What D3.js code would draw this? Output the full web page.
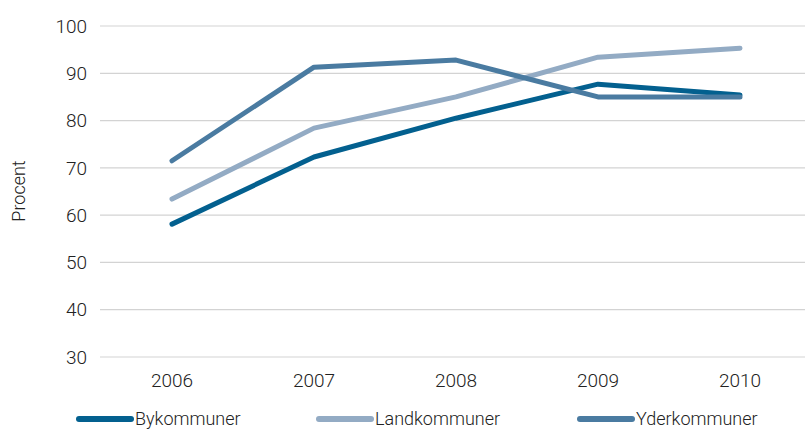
<!DOCTYPE html>
<html>
<head>
<meta charset="utf-8">
<script src="https://cdn.jsdelivr.net/npm/d3@7"></script>
<style>
  body { margin: 0; background: #fff; }
  svg text { font-family: Roboto, "DejaVu Sans", sans-serif; fill: #222; font-weight: 300; }
</style>
</head>
<body>
<svg id="chart" width="805" height="430"></svg>
<script>
// data
const years = ['2006', '2007', '2008', '2009', '2010'];
const bykommuner = [58.1, 72.3, 80.5, 87.7, 85.4];
const landkommuner = [63.4, 78.4, 85.0, 93.4, 95.3];
const yderkommuner = [71.5, 91.3, 92.8, 85.0, 85.0];
const yTicks = [30, 40, 50, 60, 70, 80, 90, 100];

const series = [
  { name: 'Bykommuner', values: bykommuner, color: '#03608f' },
  { name: 'Landkommuner', values: landkommuner, color: '#93abc4' },
  { name: 'Yderkommuner', values: yderkommuner, color: '#4a7ba1' }
];

const svg = d3.select('#chart');

const x = d3.scalePoint().domain(years).range([172, 740]);
const y = d3.scaleLinear().domain([30, 100]).range([357, 26]);

// gridlines
svg.append('g')
  .selectAll('line')
  .data(yTicks)
  .join('line')
  .attr('x1', 100).attr('x2', 805)
  .attr('y1', d => y(d)).attr('y2', d => y(d))
  .attr('stroke', '#d3d3d3')
  .attr('stroke-width', 1.2);

// y tick labels
svg.append('g')
  .selectAll('text')
  .data(yTicks)
  .join('text')
  .attr('x', 87)
  .attr('y', d => y(d))
  .attr('dy', '0.35em')
  .attr('text-anchor', 'end')
  .style('font-size', '19px')
  .text(d => d);

// x tick labels
svg.append('g')
  .selectAll('text')
  .data(years)
  .join('text')
  .attr('x', d => x(d))
  .attr('y', 387)
  .attr('text-anchor', 'middle')
  .style('font-size', '19px')
  .text(d => d);

// axis title
svg.append('text')
  .attr('transform', 'translate(25,191) rotate(-90)')
  .attr('text-anchor', 'middle')
  .style('font-size', '18px')
  .text('Procent');

// lines
const line = d3.line()
  .x((d, i) => x(years[i]))
  .y(d => y(d));

svg.append('g')
  .selectAll('path')
  .data(series)
  .join('path')
  .attr('d', d => line(d.values))
  .attr('fill', 'none')
  .attr('stroke', d => d.color)
  .attr('stroke-width', 5)
  .attr('stroke-linecap', 'round')
  .attr('stroke-linejoin', 'round');

// legend
const legendX = [79, 319, 580];
const lg = svg.append('g')
  .selectAll('g')
  .data(series)
  .join('g')
  .attr('transform', (d, i) => `translate(${legendX[i]},419)`);

lg.append('line')
  .attr('x1', 0).attr('x2', 52)
  .attr('stroke', d => d.color)
  .attr('stroke-width', 6)
  .attr('stroke-linecap', 'round');

lg.append('text')
  .attr('x', 56)
  .attr('dy', '0.33em')
  .style('font-size', '18px')
  .text(d => d.name);
</script>
</body>
</html>
